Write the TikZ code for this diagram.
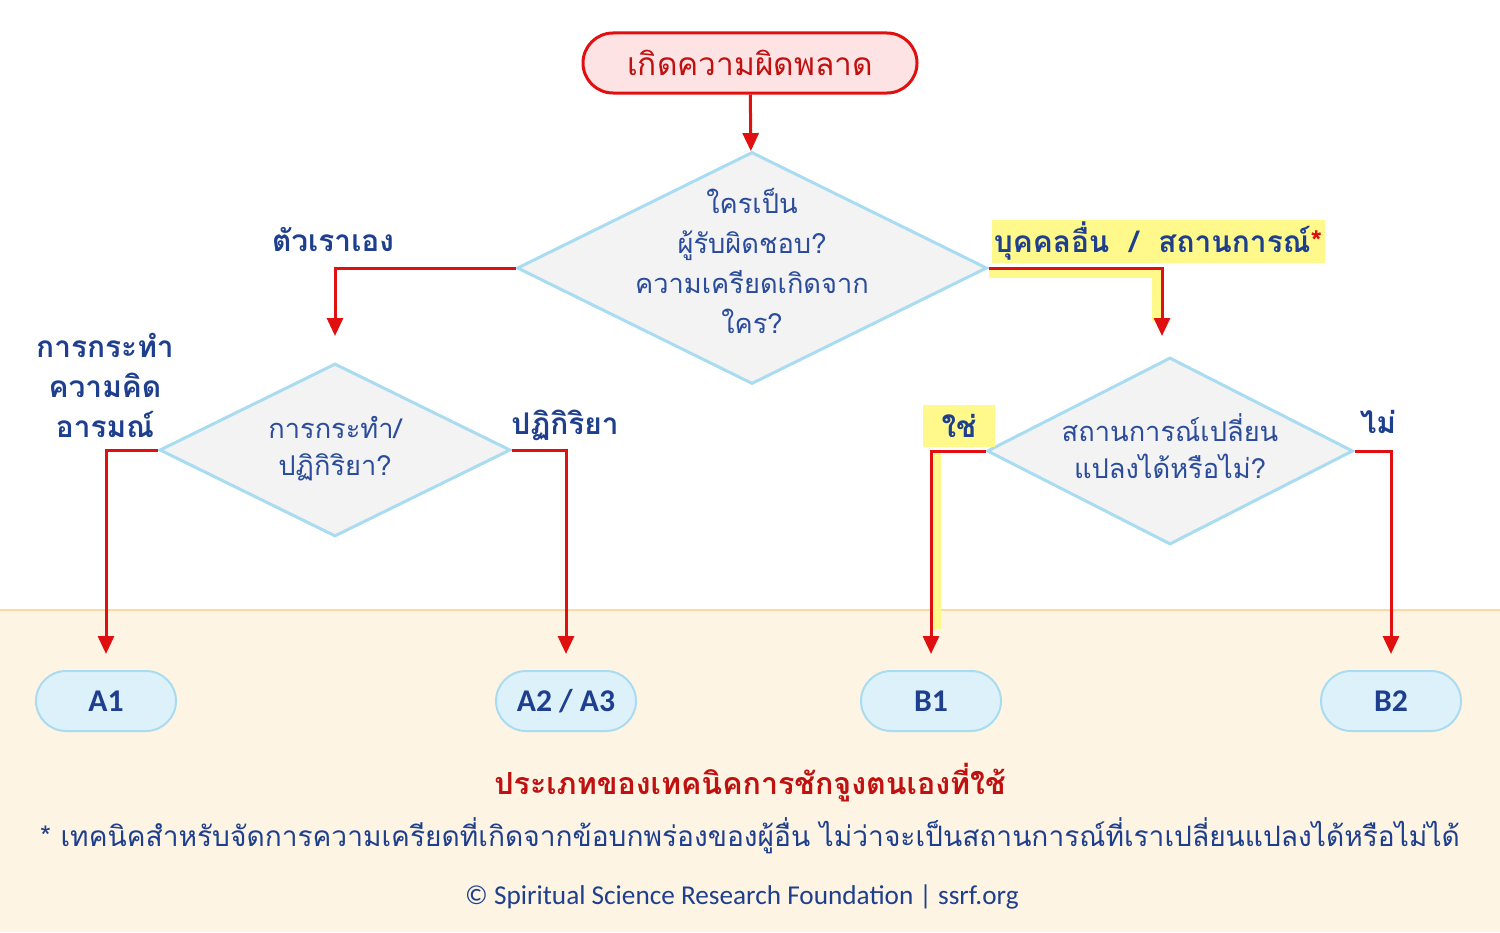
\documentclass[tikz,border=0pt]{standalone}
\usepackage{fontspec}
\setmainfont{Carlito}
\newfontfamily\thai[Script=Thai]{Loma}
\usetikzlibrary{arrows.meta, positioning, shapes.geometric, backgrounds}
\definecolor{errred}{HTML}{E01010}
\definecolor{startpink}{HTML}{FDE3E3}
\definecolor{titlered}{HTML}{C01010}
\definecolor{diaedge}{HTML}{A9DCF0}
\definecolor{diafill}{HTML}{F3F3F3}
\definecolor{qblue}{HTML}{2B4C9B}
\definecolor{lblblue}{HTML}{1E3F8E}
\definecolor{techfill}{HTML}{DDF1FB}
\definecolor{hlyellow}{HTML}{FFF98C}
\definecolor{bgbeige}{HTML}{FDF4E3}
\definecolor{bgline}{HTML}{FDD9A0}

\begin{document}
\begin{tikzpicture}[x=0.2mm, y=-0.2mm,
    >={Triangle[length=3.6mm, width=3.2mm]},
    every node/.style={font=\thai},
    start/.style ={draw=errred, line width=0.6mm, fill=startpink, rounded corners=6mm,
                   minimum width=66.8mm, minimum height=12mm, text=titlered,
                   font=\thai\fontsize{18pt}{22pt}\selectfont},
    dia/.style   ={draw=diaedge, line width=0.6mm, fill=diafill, diamond, inner sep=0pt},
    qtext/.style ={align=center, text=qblue, font=\thai\fontsize{15.5pt}{22.8pt}\selectfont},
    lbl/.style   ={align=center, text=lblblue, font=\thai\bfseries\fontsize{17pt}{22.8pt}\selectfont},
    hlbox/.style ={fill=hlyellow, inner sep=0pt},
    tech/.style  ={draw=diaedge, line width=0.4mm, fill=techfill, rounded corners=6mm,
                   minimum width=28mm, minimum height=12mm, text=lblblue,
                   font=\bfseries\fontsize{18pt}{20pt}\selectfont},
    flow/.style  ={->, errred, line width=0.6mm},
    hl/.style    ={hlyellow, line width=2mm},
]
% backdrop
\useasboundingbox (0,0) rectangle (1500,932);

% questions
\node[start] (err) at (750,63) {เกิดความผิดพลาด};
\node[dia, minimum width=94mm, minimum height=46.4mm] (q1) at (752,268) {};
\node[qtext] (q1t) at (752,261) {ใครเป็น\\ผู้รับผิดชอบ?\\ความเครียดเกิดจาก\\ใคร?};
\node[dia, minimum width=70.2mm, minimum height=34.6mm] (q2) at (335,450) {};
\node[qtext, font=\thai\fontsize{15.5pt}{21pt}\selectfont] (q2t) at (335,449) {การกระทำ/\\ปฏิกิริยา?};
\node[dia, minimum width=73.2mm, minimum height=37.4mm] (q3) at (1170,451) {};
\node[qtext, font=\thai\fontsize{15.5pt}{21pt}\selectfont] (q3t) at (1170,446) {สถานการณ์เปลี่ยน\\แปลงได้หรือไม่?};

% branch labels
\node[lbl] (lself) at (333,240) {ตัวเราเอง};
\node[lbl, hlbox, minimum width=66.6mm, minimum height=8.6mm] (lother) at (1158,241)
   {บุคคลอื่น\ \ /\ \ สถานการณ์{\color{errred}*}};
\node[lbl] (lact) at (105,385) {การกระทำ\\ความคิด\\อารมณ์};
\node[lbl] (lreact) at (565,425) {ปฏิกิริยา};
\node[lbl, hlbox, minimum width=14.4mm, minimum height=8.4mm] (lyes) at (959,426) {ใช่};
\node[lbl] (lno) at (1378,422) {ไม่};

% techniques
\node[tech] (a1) at (106,701) {A1};
\node[tech] (a2) at (566,701) {A2 / A3};
\node[tech] (b1) at (931,701) {B1};
\node[tech] (b2) at (1391,701) {B2};
\node[text=titlered, font=\thai\bfseries\fontsize{17.3pt}{20pt}\selectfont] (title) at (750,783)
   {ประเภทของเทคนิคการชักจูงตนเองที่ใช้};
\node[text=lblblue, font=\thai\fontsize{16pt}{19pt}\selectfont] (note) at (750,836)
   {* เทคนิคสำหรับจัดการความเครียดที่เกิดจากข้อบกพร่องของผู้อื่น ไม่ว่าจะเป็นสถานการณ์ที่เราเปลี่ยนแปลงได้หรือไม่ได้};
\node[text=lblblue, font=\fontsize{15.5pt}{17pt}\selectfont] (copy) at (742,897)
   {© Spiritual Science Research Foundation | ssrf.org};

% beige band and highlighter under the marked branch
\begin{scope}[on background layer]
\fill[bgbeige] (0,610) rectangle (1500,932);
\draw[bgline, line width=0.4mm] (0,610) -- (1500,610);
\draw[hl] ([yshift=-1mm]q1.east) -| ([xshift=-2.6mm, yshift=7mm]q3.north);
\draw[hl] ([xshift=1mm]q3.west -| b1.north) -- ([xshift=1mm, yshift=8.2mm]b1.north);
\end{scope}

% connectors
\draw[flow] (err) -- (q1);
\draw[flow] (q1.west) -| ([yshift=5.2mm]q2.north);
\draw[flow] (q1.east) -| ([xshift=-1.6mm, yshift=4mm]q3.north);
\draw[flow] (q2.west) -| ([yshift=3.2mm]a1.north);
\draw[flow] (q2.east) -| ([yshift=3.2mm]a2.north);
\draw[flow] (q3.west) -| ([yshift=3.2mm]b1.north);
\draw[flow] (q3.east) -| ([yshift=3.2mm]b2.north);
\end{tikzpicture}
\end{document}
